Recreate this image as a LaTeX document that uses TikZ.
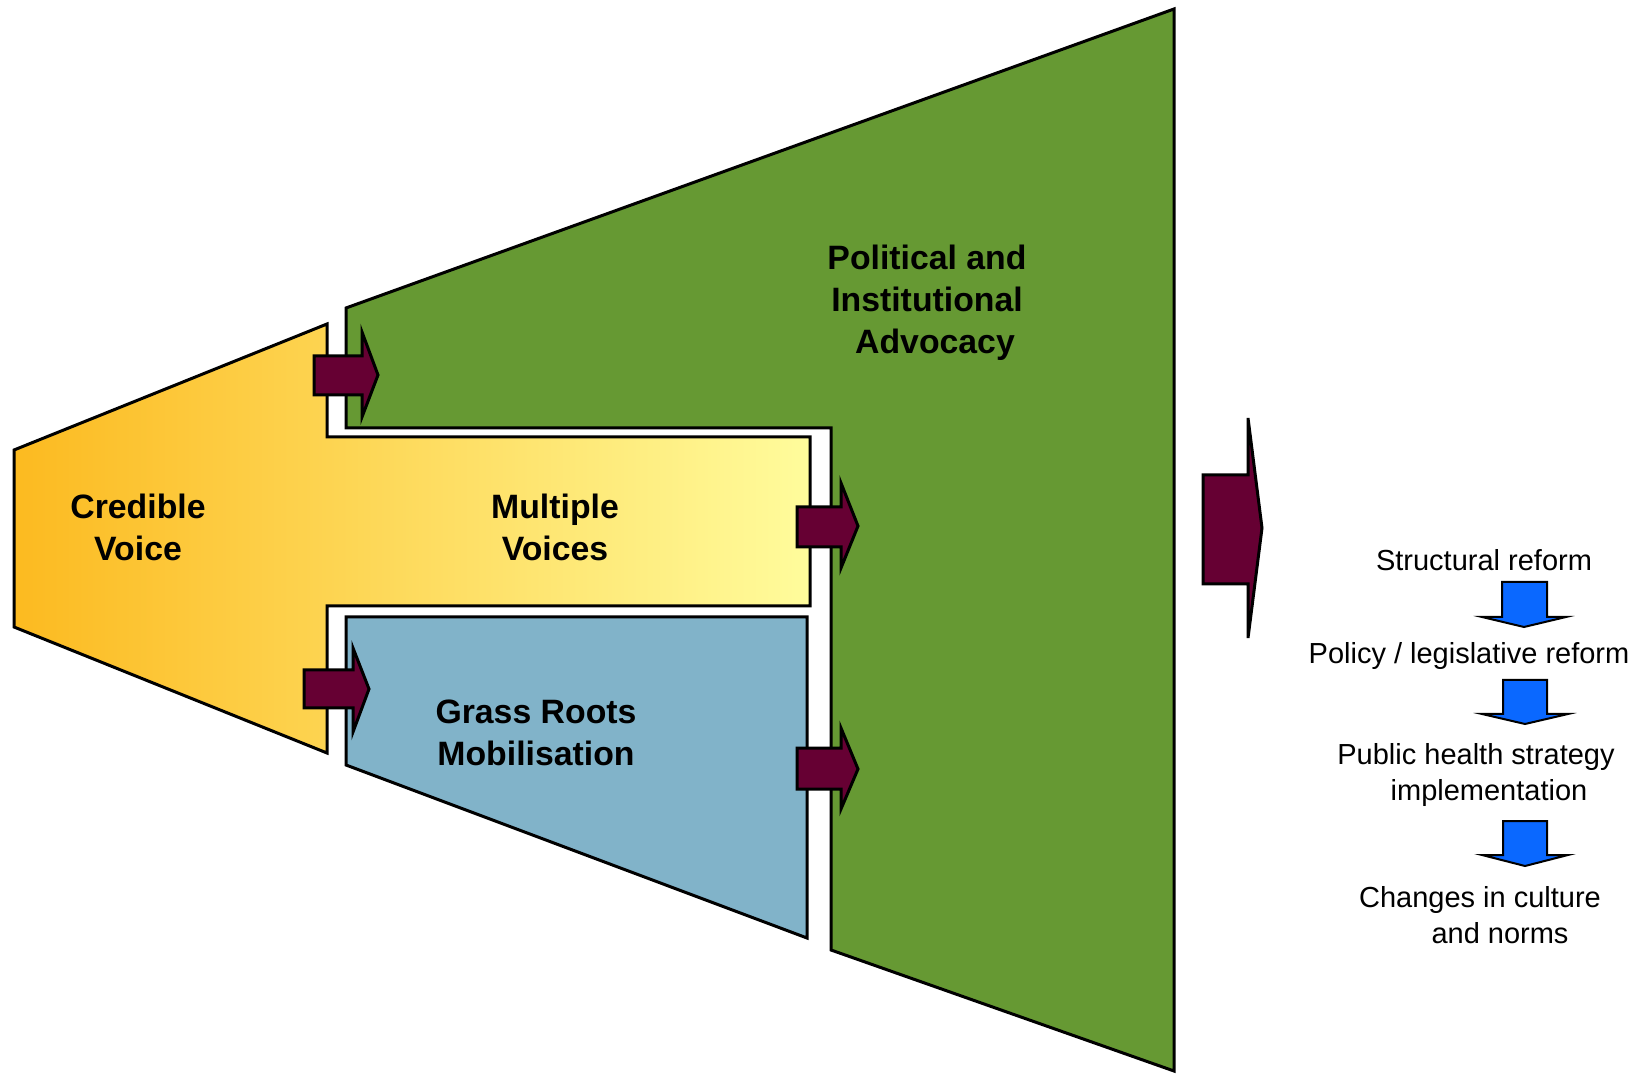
\documentclass[tikz,border=0pt]{standalone}
\usepackage{fontspec}
\setmainfont{Liberation Sans}

\definecolor{amber}{RGB}{252,186,32}
\definecolor{paleyellow}{RGB}{255,252,156}
\definecolor{leafgreen}{RGB}{102,153,51}
\definecolor{steelblue}{RGB}{129,179,201}
\definecolor{maroon}{RGB}{102,0,51}
\definecolor{brightblue}{RGB}{10,104,255}

\tikzset{
    outline/.style={draw=black, line width=1.5pt, line join=miter},
    push/.style={outline, fill=maroon},
    downarrow/.style={draw=black, line width=1pt, fill=brightblue},
    biglabel/.style={font=\bfseries\fontsize{16.9}{21}\selectfont, align=center},
    smalllabel/.style={font=\fontsize{14.5}{18}\selectfont, align=center}
}

\begin{document}
\begin{tikzpicture}[x=0.5pt, y=-0.5pt]
    \useasboundingbox (0, 0) rectangle (1639, 1074);

    % Draw the stages
    \draw[outline, left color=amber, right color=paleyellow]
        (14, 450) -- (327, 324) -- (327, 437) -- (810, 437) -- (810, 606)
        -- (327, 606) -- (327, 753) -- (14, 627) -- cycle;
    \draw[outline, fill=leafgreen]
        (346, 308) -- (1174, 9) -- (1174, 1071) -- (831, 950)
        -- (831, 428) -- (346, 428) -- cycle;
    \draw[outline, fill=steelblue]
        (346, 617) -- (807, 617) -- (807, 938) -- (346, 765) -- cycle;

    % Labels inside the stages
    \node[biglabel] (credible) at (138, 527) {Credible\\Voice};
    \node[biglabel] (multiple) at (555, 527) {Multiple\\Voices};
    \node[biglabel] (grass) at (536, 733) {Grass Roots\\Mobilisation};
    \node[biglabel] (political) at (927, 303) {Political and\\Institutional\\\hspace*{8pt}Advocacy};

    % Arrows between the stages
    \draw[push] (314, 356) -- (362, 356) -- (362, 332) -- (378, 375)
        -- (362, 417) -- (362, 395) -- (314, 395) -- cycle;
    \draw[push] (304, 670) -- (353, 670) -- (353, 648) -- (369, 689)
        -- (353, 732) -- (353, 708) -- (304, 708) -- cycle;
    \draw[push] (797, 507) -- (841, 507) -- (841, 483) -- (858, 526)
        -- (841, 568) -- (841, 547) -- (797, 547) -- cycle;
    \draw[push] (797, 748) -- (841, 748) -- (841, 728) -- (858, 769)
        -- (841, 809) -- (841, 789) -- (797, 789) -- cycle;

    % Output arrow
    \draw[push] (1203, 475) -- (1248, 475) -- (1248, 418) -- (1262, 528)
        -- (1248, 638) -- (1248, 584) -- (1203, 584) -- cycle;

    % Outcomes
    \node[smalllabel] (structural) at (1484, 560) {Structural reform};
    \node[smalllabel] (policy) at (1469, 656) {Policy / legislative reform};
    \node[smalllabel] (strategy) at (1476, 775) {Public health strategy\\\hspace*{13pt}implementation};
    \node[smalllabel] (culture) at (1480, 915) {Changes in culture\\\hspace*{20pt}and norms};

    \draw[downarrow] (1502, 582) -- (1547, 582) -- (1547, 617) -- (1566, 617)
        -- (1524, 627) -- (1482, 617) -- (1502, 617) -- cycle;
    \draw[downarrow] (1503, 680) -- (1547, 680) -- (1547, 714) -- (1568, 714)
        -- (1525, 724) -- (1482, 714) -- (1503, 714) -- cycle;
    \draw[downarrow] (1503, 821) -- (1547, 821) -- (1547, 855) -- (1568, 855)
        -- (1525, 866) -- (1482, 855) -- (1503, 855) -- cycle;
\end{tikzpicture}
\end{document}
